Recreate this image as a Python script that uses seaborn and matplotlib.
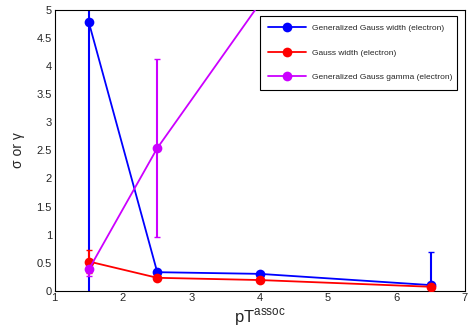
import matplotlib
matplotlib.use("Agg")
import matplotlib.pyplot as plt
from matplotlib.ticker import MultipleLocator
import pandas as pd
import seaborn as sns

# pT^assoc bin centres
pt_gg = [1.5, 2.5, 4.0, 6.5]
gg_width = [4.78, 0.33, 0.30, 0.10]
gg_width_err = [5.0, 0.03, 0.03, 0.59]

pt_g = [1.5, 2.5, 4.0, 6.5]
g_width = [0.52, 0.23, 0.19, 0.07]
g_width_err = [0.20, 0.02, 0.02, 0.02]

pt_gamma = [1.5, 2.5, 4.0]
gg_gamma = [0.38, 2.54, 5.12]
gg_gamma_err = [0.12, 1.59, 0.05]

SERIES = [
    ("Generalized Gauss width (electron)", pt_gg, gg_width, gg_width_err, "#0000ff"),
    ("Gauss width (electron)", pt_g, g_width, g_width_err, "#ff0000"),
    ("Generalized Gauss gamma (electron)", pt_gamma, gg_gamma, gg_gamma_err, "#cc00ff"),
]


def main():
    sns.set_style("white")
    plt.rcParams["font.family"] = ["Liberation Sans", "DejaVu Sans"]

    fig = plt.figure(figsize=(4.7, 3.27), dpi=100)
    ax = fig.add_axes([0.1164, 0.111, 0.8726, 0.858])

    frames = []
    for name, x, y, err, color in SERIES:
        frames.append(pd.DataFrame({"pt": x, "val": y, "err": err, "series": name}))
    df = pd.concat(frames, ignore_index=True)
    palette = {name: color for name, *_rest, color in SERIES}

    for name, x, y, err, color in SERIES:
        ax.errorbar(x, y, yerr=err, fmt="none", ecolor=color, elinewidth=1.5,
                    capsize=2, capthick=1, zorder=2)

    sns.lineplot(data=df, x="pt", y="val", hue="series", palette=palette,
                 marker="o", markersize=7, markeredgewidth=0, linewidth=1.3,
                 sort=False, estimator=None, ax=ax, zorder=3)

    ax.set_xlim(1, 7)
    ax.set_ylim(0, 5)
    ax.xaxis.set_major_locator(MultipleLocator(1))
    ax.xaxis.set_minor_locator(MultipleLocator(0.2))
    ax.yaxis.set_major_locator(MultipleLocator(0.5))
    ax.yaxis.set_minor_locator(MultipleLocator(0.1))
    ax.set_yticks([0, 0.5, 1, 1.5, 2, 2.5, 3, 3.5, 4, 4.5, 5])
    ax.set_yticklabels(["0", "0.5", "1", "1.5", "2", "2.5", "3", "3.5", "4", "4.5", "5"])
    ax.tick_params(which="both", direction="in", top=False, right=False, labelsize=8, width=0.8,
                   color="black")
    ax.tick_params(which="major", length=8, pad=2)
    ax.tick_params(which="minor", length=4)

    ax.set_xlabel(r"pT$^{\mathregular{assoc}}$", fontsize=12, labelpad=2)
    ax.set_ylabel("σ or γ", fontsize=10, labelpad=8)

    for spine in ax.spines.values():
        spine.set_visible(True)
        spine.set_color("black")
        spine.set_linewidth(0.8)

    handles, labels = ax.get_legend_handles_labels()
    leg = ax.legend(handles, labels, loc="upper left", bbox_to_anchor=(0.5, 0.711, 0.48, 0.268),
                    mode="expand", fontsize=6, frameon=True, fancybox=False, framealpha=1,
                    edgecolor="black", handlelength=4.5, borderpad=1.0, labelspacing=2.0,
                    borderaxespad=0)
    leg.get_frame().set_linewidth(0.8)

    fig.savefig("out.png", dpi=100)
    plt.close(fig)


if __name__ == "__main__":
    main()
